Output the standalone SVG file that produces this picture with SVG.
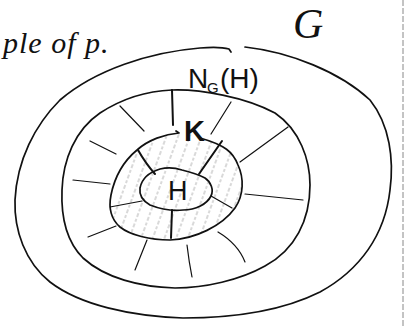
<svg xmlns="http://www.w3.org/2000/svg" width="405" height="326" viewBox="0 0 405 326">
<style>
.ln{fill:none;stroke:#111;stroke-width:1.7;stroke-linecap:round;stroke-linejoin:round}
.tk{fill:none;stroke:#111;stroke-width:1.2;stroke-linecap:round}
.tkb{fill:none;stroke:#111;stroke-width:2;stroke-linecap:round}
.hw{font-family:"Liberation Serif",serif;font-style:italic;fill:#111}
.lb{font-family:"Liberation Sans",sans-serif;fill:#111}
</style>
<defs>
<pattern id="hatch" patternUnits="userSpaceOnUse" width="11" height="11" patternTransform="rotate(20)">
<line x1="5" y1="0" x2="5" y2="11" stroke="#aaa" stroke-width="0.9" stroke-dasharray="3 2"/>
</pattern>
</defs>
<rect width="405" height="326" fill="#fff"/>
<line x1="403" y1="0" x2="403" y2="326" stroke="#888" stroke-width="1" stroke-dasharray="6 2"/>
<text class="hw" x="3" y="53" font-size="30" letter-spacing="1">ple of p.</text>
<g id="G">
<path class="ln" d="M245,47 C290,52 340,72 370,100 C390,125 394,160 390,190 C385,235 360,270 320,292 C280,312 230,318 183,318 C130,316 80,305 50,282 C25,262 14,230 15,200 C17,160 35,125 60,100 C95,70 150,52 200,48 C212,47 222,47 229,49 l2,3"/>
<text class="hw" x="293" y="38" font-size="42">G</text>
</g>
<g id="NGH">
<path class="ln" d="M172,90 C200,89 245,97 275,113 C300,130 310,160 310,185 C310,220 295,250 265,266 C240,280 205,288 175,288 C140,287 105,278 83,258 C65,240 61,215 62,190 C63,160 75,130 100,113 C120,100 145,91 172,90 Z"/>
<text class="lb" x="188" y="88" font-size="28">N</text>
<text class="lb" x="207" y="93" font-size="15">G</text>
<text class="lb" x="220" y="88" font-size="28">(H)</text>
</g>
<g id="K">
<path d="M178,133 C165,134 148,140 137,150 C125,160 115,175 111,195 C108,210 112,220 120,227 C130,235 150,240 170,240 C195,239 222,226 235,208 C244,195 244,178 238,165 C233,152 225,145 200,138 L190,134 Z" fill="url(#hatch)" stroke="none"/>
<path class="ln" d="M176,131 l3,2 C165,134 148,140 137,150 C125,160 115,175 111,195 C108,210 112,220 120,227 C130,235 150,240 170,240 C195,239 222,226 235,208 C244,195 244,178 238,165 C233,152 225,145 200,138"/>
<text class="lb" x="184" y="141" font-size="29" font-weight="bold">K</text>
</g>
<g id="H">
<path class="ln" fill="#fff" d="M140,188 C142,178 150,172 160,169 C168,167 176,168 182,170 C190,172 198,174 205,178 C211,182 214,190 211,196 C207,204 196,210 183,210 C172,211 160,209 150,205 C143,201 139,195 140,188 Z"/>
<text class="lb" x="168" y="200" font-size="27">H</text>
</g>
<g id="connectors">
<line class="tkb" x1="172" y1="90" x2="173" y2="125"/>
<line class="tk" x1="120" y1="106" x2="144" y2="131"/>
<line class="tk" x1="231" y1="102" x2="211" y2="134"/>
<line class="tk" x1="90" y1="141" x2="116" y2="154"/>
<line class="tk" x1="288" y1="127" x2="240" y2="162"/>
<line class="tk" x1="73" y1="180" x2="110" y2="184"/>
<line class="tk" x1="245" y1="194" x2="303" y2="200"/>
<line class="tk" x1="110" y1="207" x2="142" y2="201"/>
<path class="tkb" d="M138,150 Q146,164 155,174"/>
<line class="tkb" x1="222" y1="141" x2="199" y2="174"/>
<line class="tk" x1="211" y1="196" x2="232" y2="208"/>
<line class="tkb" x1="172" y1="210" x2="171" y2="238"/>
<line class="tk" x1="88" y1="237" x2="116" y2="226"/>
<line class="tk" x1="135" y1="270" x2="147" y2="240"/>
<path class="tk" d="M192,277 Q189,262 187,245"/>
<path class="tk" d="M245,262 Q238,244 218,232"/>
</g>
</svg>
